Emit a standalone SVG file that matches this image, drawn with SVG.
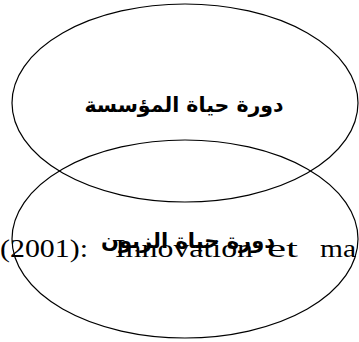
<svg xmlns="http://www.w3.org/2000/svg" width="359" height="342" viewBox="0 0 359 342">
<style>
.ell{fill:none;stroke:#000;stroke-width:1.2}
.ar{font-family:"DejaVu Sans","Noto Sans",sans-serif;font-weight:bold;fill:#000;text-anchor:middle}
.lat{font-family:"Liberation Serif","Times New Roman",serif;font-size:25px;fill:#000}
</style>
<rect width="359" height="342" fill="#fff"/>
<g id="background-text">
<text class="lat" x="0" y="257" textLength="88" lengthAdjust="spacingAndGlyphs">(2001):</text>
<text class="lat" x="115" y="257" textLength="138" lengthAdjust="spacingAndGlyphs">Innovation</text>
<text class="lat" x="267" y="257" textLength="31" lengthAdjust="spacingAndGlyphs">et</text>
<text class="lat" x="320" y="257" textLength="36" lengthAdjust="spacingAndGlyphs">ma</text>
</g>
<g id="node-enterprise">
<ellipse class="ell" cx="185" cy="103" rx="173" ry="99"/>
<text class="ar" x="184" y="112" font-size="20.5">دورة حياة المؤسسة</text>
</g>
<g id="node-customer">
<ellipse class="ell" cx="185" cy="239" rx="173" ry="99"/>
<text class="ar" x="188" y="248" font-size="21">دورة حياة الزبون</text>
</g>
<g id="connectors"/>
</svg>
